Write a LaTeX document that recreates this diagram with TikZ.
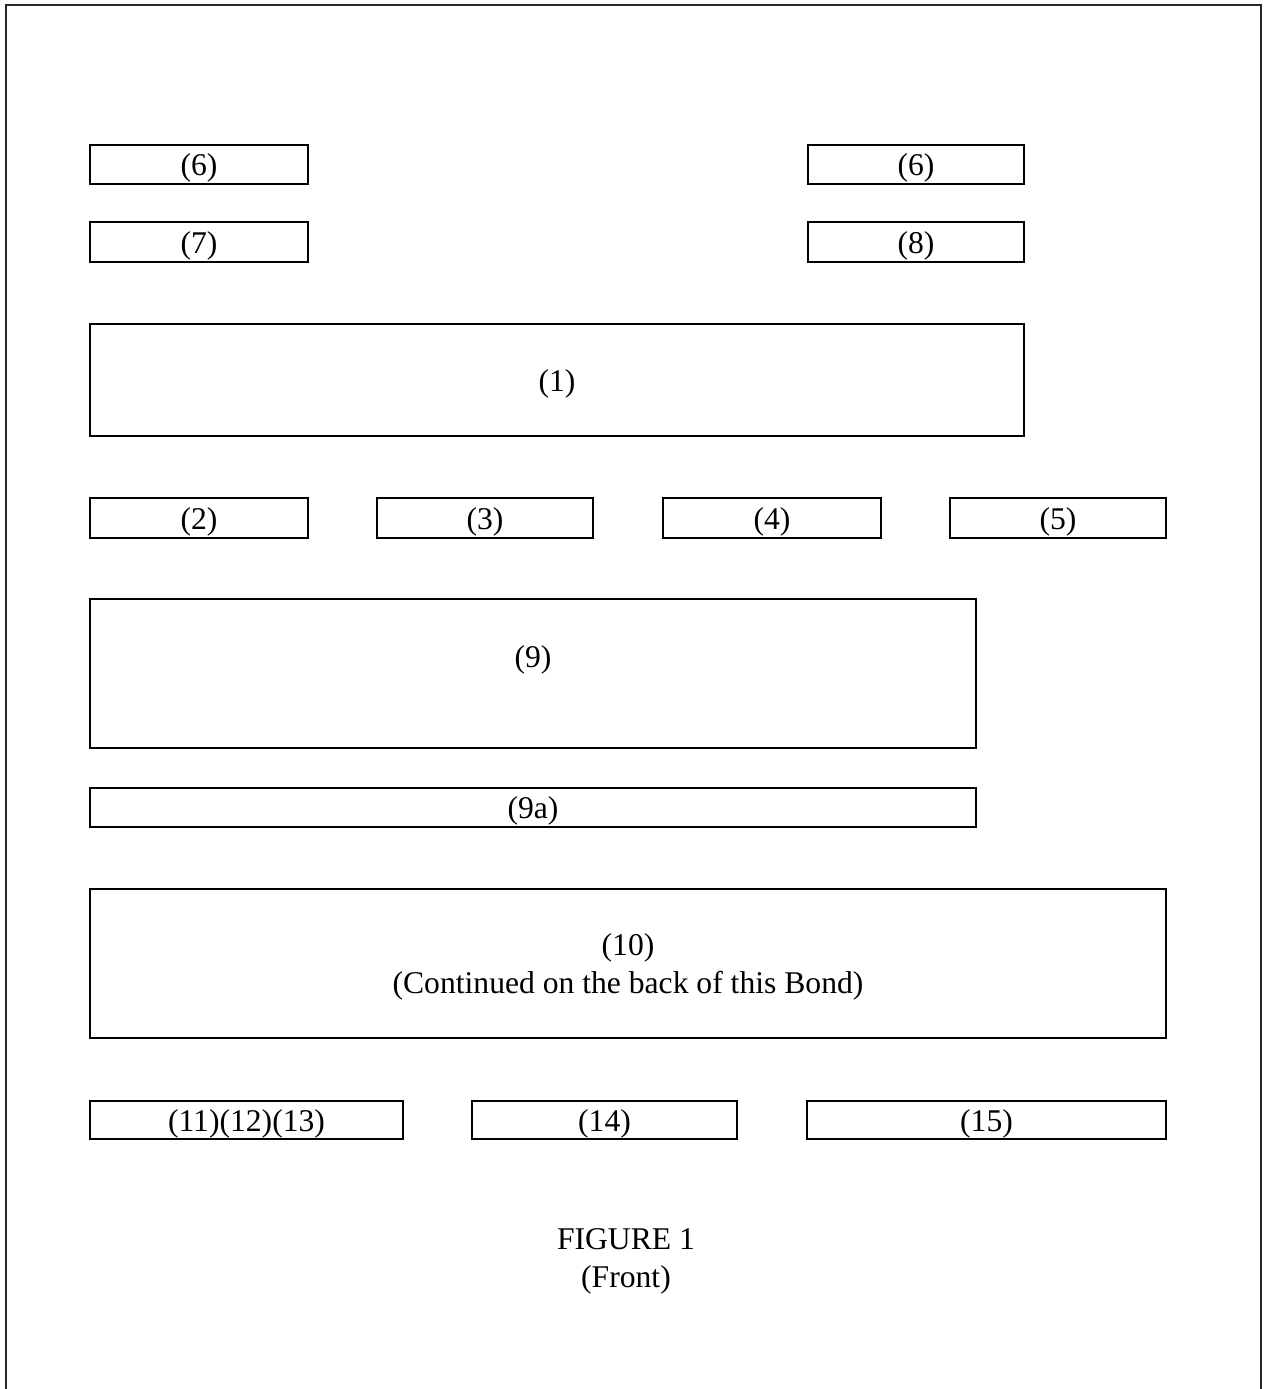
\documentclass[tikz,border=0pt]{standalone}
\usepackage{fontspec}
\setmainfont{Liberation Serif}
\usepackage{tikz}

\tikzset{
  field/.style={shape=rectangle,draw=black,line width=1.1pt,inner sep=0pt,text height=13pt,text depth=0pt,font=\fontsize{18}{21.6}\selectfont},
  caption/.style={align=center,inner sep=0pt,font=\fontsize{18}{21.6}\selectfont}
}

\begin{document}
\begin{tikzpicture}[x=0.02cm,y=-0.02cm]
        \useasboundingbox (0,0) rectangle (1264,1389);
        % page frame, open at the bottom
        \draw[line width=1.5pt,black!85] (6,1389) -- (6,5) -- (1261,5) -- (1261,1389);

        \node[field,minimum width=4.36cm,minimum height=0.78cm] (f6a) at (199, 164.5) {(6)};
        \node[field,minimum width=4.32cm,minimum height=0.78cm] (f6b) at (916, 164.5) {(6)};
        \node[field,minimum width=4.36cm,minimum height=0.80cm] (f7) at (199, 242) {(7)};
        \node[field,minimum width=4.32cm,minimum height=0.80cm] (f8) at (916, 242) {(8)};

        \node[field,minimum width=18.68cm,minimum height=2.24cm] (f1) at (557, 380) {(1)};

        \node[field,minimum width=4.36cm,minimum height=0.80cm] (f2) at (199, 518) {(2)};
        \node[field,minimum width=4.32cm,minimum height=0.80cm] (f3) at (485, 518) {(3)};
        \node[field,minimum width=4.36cm,minimum height=0.80cm] (f4) at (772, 518) {(4)};
        \node[field,minimum width=4.32cm,minimum height=0.80cm] (f5) at (1058, 518) {(5)};

        \node[field,minimum width=17.72cm,minimum height=2.98cm] (f9) at (533, 673.5) {};
        \node[caption] (t9) at (533, 660) {(9)};
        \node[field,minimum width=17.72cm,minimum height=0.78cm] (f9a) at (533, 807.5) {(9a)};

        \node[field,minimum width=21.52cm,minimum height=2.98cm] (f10) at (628, 963.5) {};
        \node[caption] (t10) at (628, 967) {(10)\\(Continued on the back of this Bond)};

        \node[field,minimum width=6.26cm,minimum height=0.76cm] (f11) at (246.5, 1120) {(11)(12)(13)};
        \node[field,minimum width=5.30cm,minimum height=0.76cm] (f14) at (604.5, 1120) {(14)};
        \node[field,minimum width=7.18cm,minimum height=0.76cm] (f15) at (986.5, 1120) {(15)};

        \node[caption] (fig) at (626, 1261) {FIGURE 1\\(Front)};
\end{tikzpicture}
\end{document}
